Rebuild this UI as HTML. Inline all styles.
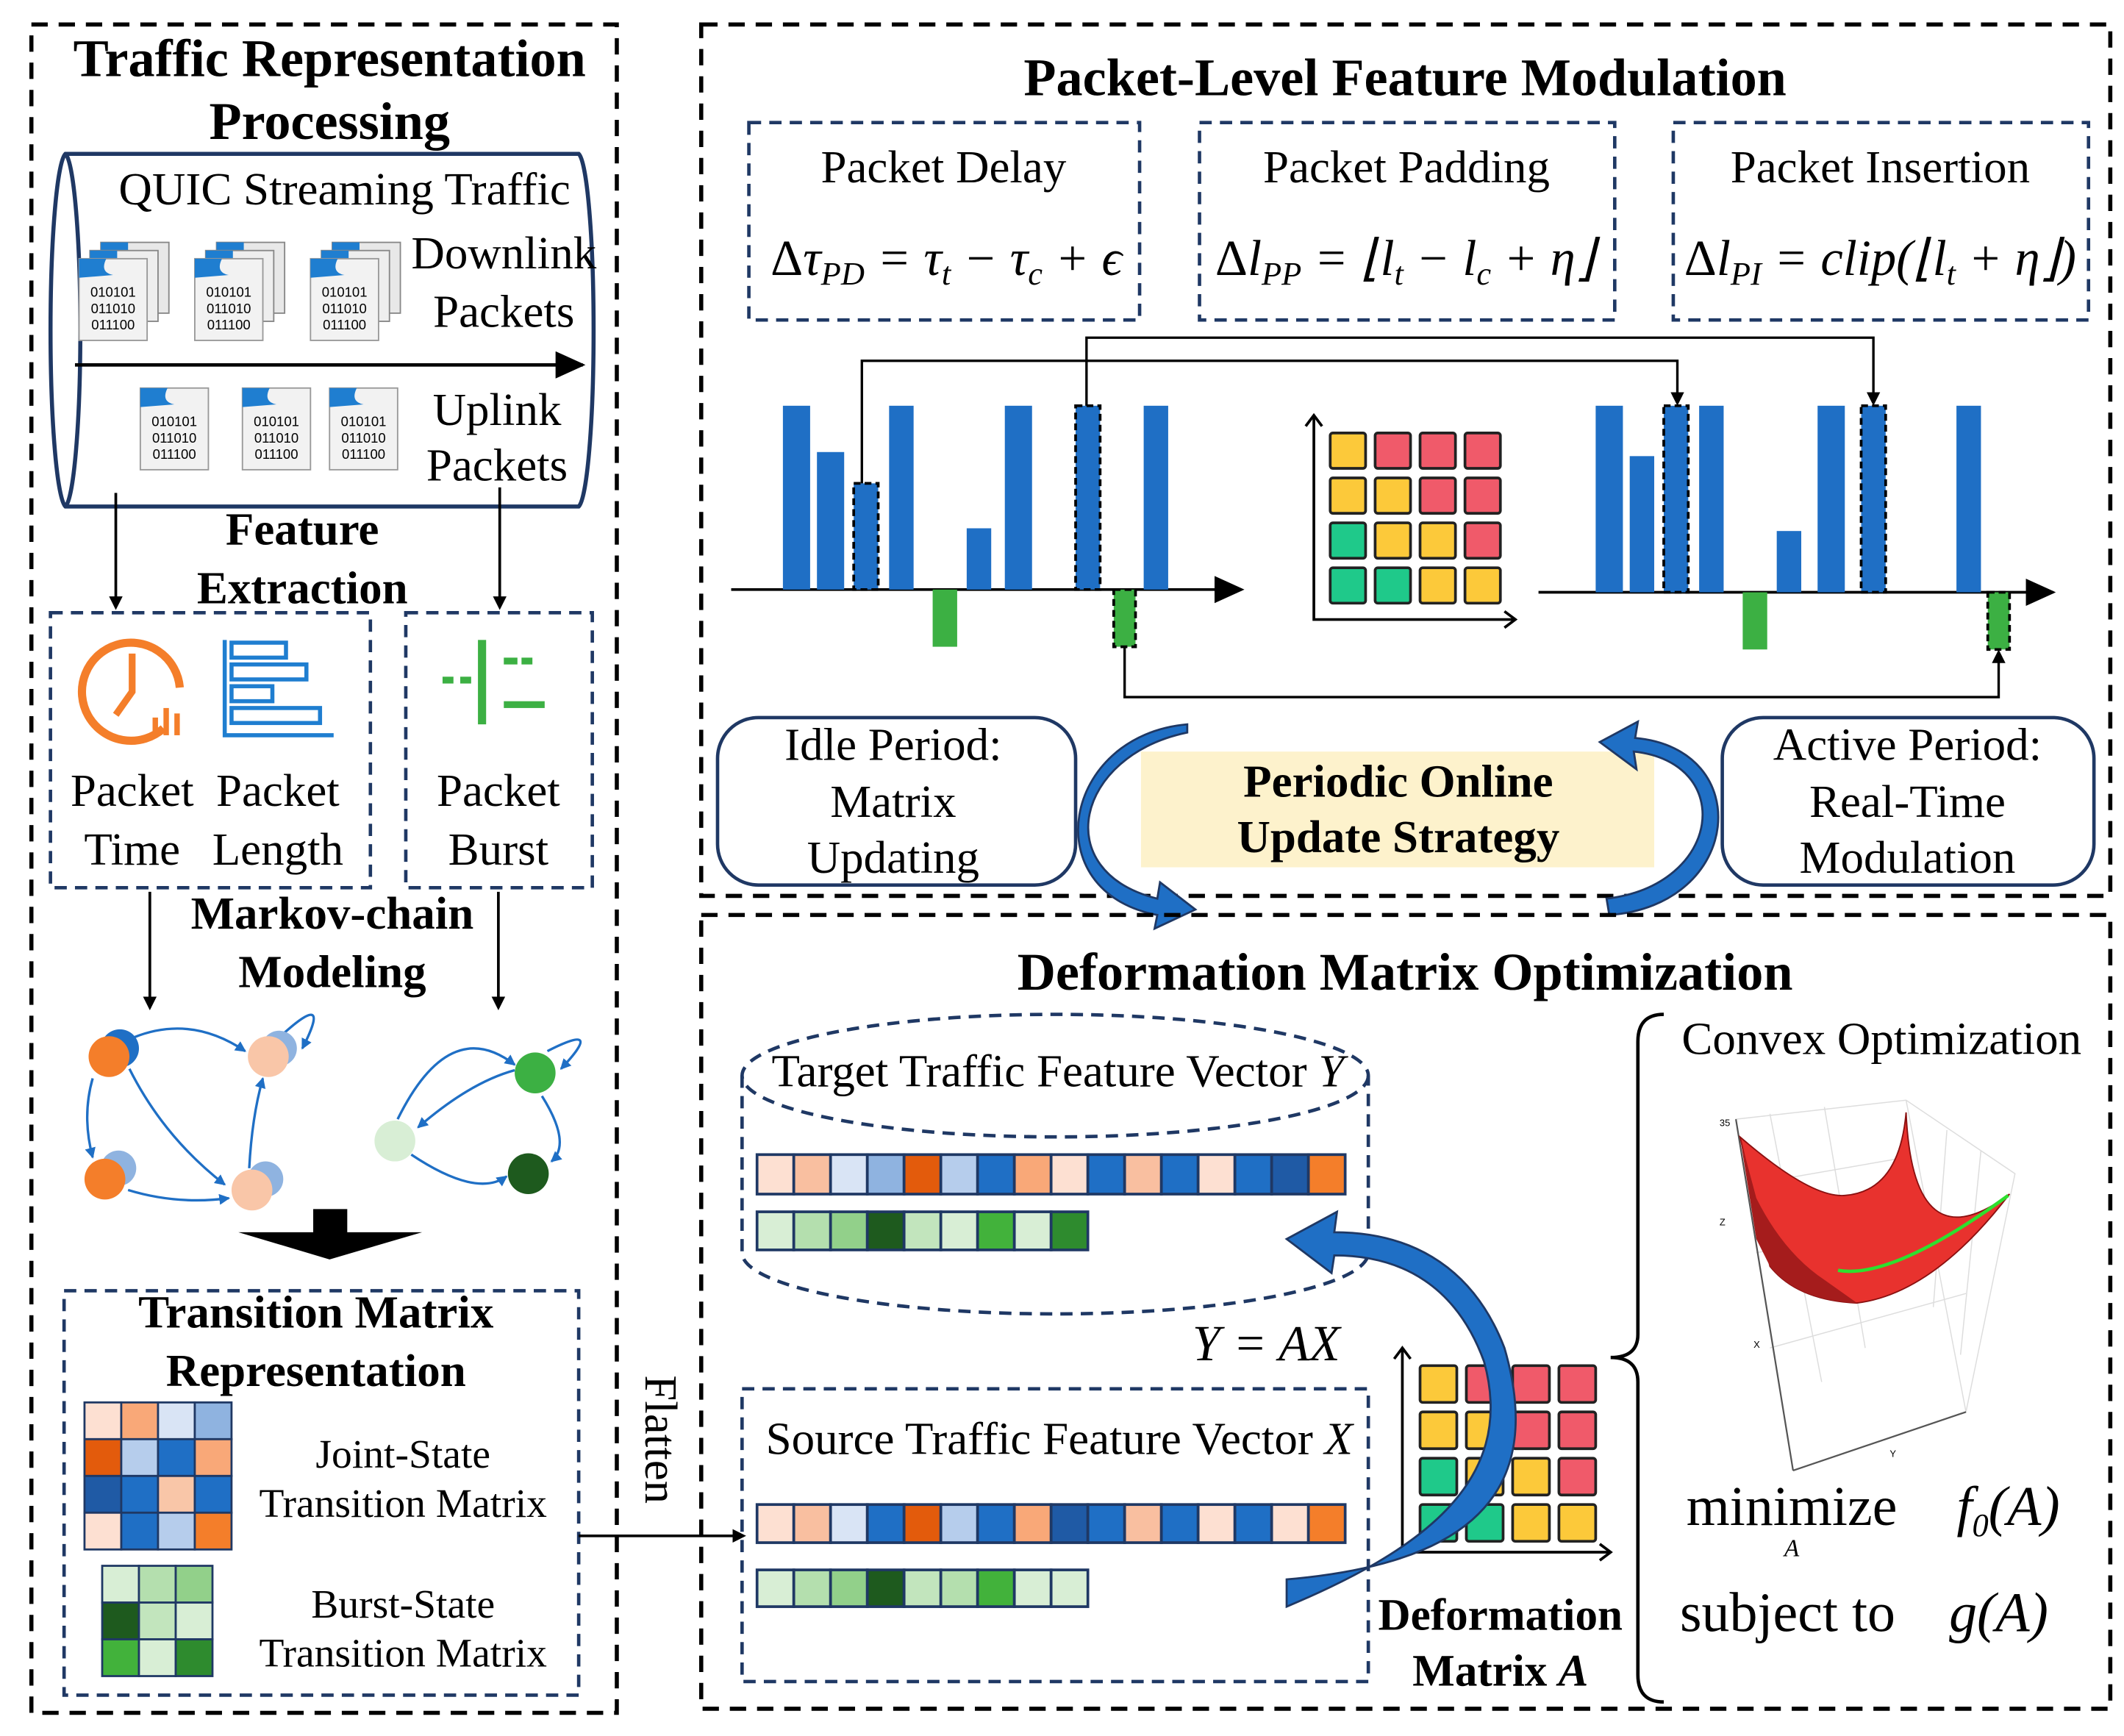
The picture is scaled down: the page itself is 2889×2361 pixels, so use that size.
<!DOCTYPE html>
<html><head><meta charset="utf-8"><style>
html,body{margin:0;padding:0;background:#fff}
svg{display:block}
text{font-family:"Liberation Serif",serif;fill:#000}
.b{font-weight:bold}
.t{font-size:34px}
.h{font-size:34px;font-weight:bold}
.H{font-size:39px;font-weight:bold}
.f{font-size:37px;font-style:italic}
.m{font-size:30px}
</style></head><body>
<svg width="2889" height="2361" viewBox="0 0 1560 1275" xmlns="http://www.w3.org/2000/svg">
<defs>
<marker id="ah" markerWidth="10" markerHeight="10" refX="8" refY="5" orient="auto" markerUnits="userSpaceOnUse"><path d="M0,0 L10,5 L0,10z" fill="#000"/></marker>
<marker id="ahs" markerWidth="8" markerHeight="8" refX="7" refY="4" orient="auto" markerUnits="userSpaceOnUse"><path d="M0,0 L8,4 L0,8z" fill="#1f6fc5"/></marker>
<marker id="ahb" markerWidth="22" markerHeight="20" refX="20" refY="10" orient="auto" markerUnits="userSpaceOnUse"><path d="M0,0 L22,10 L0,20z" fill="#000"/></marker>
<g id="file"><rect x="0" y="0" width="50" height="60" fill="#f2f2f2" stroke="#999" stroke-width="1"/><path d="M0,0 h20 q-5,10 5,12 L0,14z" fill="#1f7ed0"/><text x="25" y="28" font-size="10" text-anchor="middle" style="font-family:'Liberation Sans',sans-serif">010101</text><text x="25" y="40" font-size="10" text-anchor="middle" style="font-family:'Liberation Sans',sans-serif">011010</text><text x="25" y="52" font-size="10" text-anchor="middle" style="font-family:'Liberation Sans',sans-serif">011100</text></g>
<g id="stack"><rect x="16" y="-12" width="50" height="52" fill="#e8e8e8" stroke="#888"/><path d="M16,-12 h20 v10 h-20z" fill="#1f7ed0"/><rect x="8" y="-6" width="50" height="52" fill="#eee" stroke="#888"/><path d="M8,-6 h20 v10 h-20z" fill="#1f7ed0"/><use href="#file"/></g>
</defs>

<rect x="23" y="18" width="430" height="1240" fill="none" stroke="#000" stroke-width="3" stroke-dasharray="12,8"/>
<text x="242" y="56" class="H" text-anchor="middle">Traffic Representation</text>
<text x="242" y="102" class="H" text-anchor="middle">Processing</text>
<path d="M48,113 H425 A12,130 0 0 1 425,372 H48 A12,130 0 0 1 48,113 z" fill="none" stroke="#1f3864" stroke-width="3"/>
<path d="M48,113 A12,130 0 0 1 48,372" fill="none" stroke="#1f3864" stroke-width="3"/>
<text x="253" y="150" class="t" text-anchor="middle">QUIC Streaming Traffic</text>
<text x="370" y="197" class="t" text-anchor="middle">Downlink</text>
<text x="370" y="240" class="t" text-anchor="middle">Packets</text>
<text x="365" y="312" class="t" text-anchor="middle">Uplink</text>
<text x="365" y="353" class="t" text-anchor="middle">Packets</text>
<line x1="55" y1="268" x2="428" y2="268" stroke="#000" stroke-width="2.5" marker-end="url(#ahb)"/>
<use href="#stack" x="58" y="190"/><use href="#stack" x="143" y="190"/><use href="#stack" x="228" y="190"/>
<use href="#file" x="103" y="285"/><use href="#file" x="178" y="285"/><use href="#file" x="242" y="285"/>
<text x="222" y="400" class="h" text-anchor="middle">Feature</text>
<text x="222" y="443" class="h" text-anchor="middle">Extraction</text>
<line x1="85" y1="362" x2="85" y2="446" stroke="#000" stroke-width="2" marker-end="url(#ah)"/>
<line x1="367" y1="358" x2="367" y2="446" stroke="#000" stroke-width="2" marker-end="url(#ah)"/>
<rect x="37" y="450" width="235" height="202" fill="none" stroke="#1f3864" stroke-width="2.5" stroke-dasharray="9,6"/>
<rect x="298" y="450" width="137" height="202" fill="none" stroke="#1f3864" stroke-width="2.5" stroke-dasharray="9,6"/>
<path d="M120,535 A36,36 0 1 1 132,505" fill="none" stroke="#f47e2a" stroke-width="6"/>
<path d="M97,480 V508 L85,525" fill="none" stroke="#f47e2a" stroke-width="5"/>
<rect x="112" y="527" width="4" height="13" fill="#f47e2a"/><rect x="120" y="520" width="4" height="20" fill="#f47e2a"/><rect x="128" y="524" width="4" height="16" fill="#f47e2a"/>
<g fill="none" stroke="#1f7ed0" stroke-width="3"><path d="M165,470 V540 H245"/><rect x="170" y="472" width="40" height="11"/><rect x="170" y="488" width="55" height="11"/><rect x="170" y="504" width="30" height="11"/><rect x="170" y="520" width="65" height="11"/></g>
<g fill="#3cb043"><rect x="351" y="470" width="6" height="62"/><rect x="325" y="497" width="8" height="5"/><rect x="338" y="497" width="8" height="5"/><rect x="370" y="483" width="10" height="5"/><rect x="383" y="483" width="8" height="5"/><rect x="370" y="515" width="30" height="5"/></g>
<text x="97" y="592" class="t" text-anchor="middle">Packet</text><text x="97" y="635" class="t" text-anchor="middle">Time</text>
<text x="204" y="592" class="t" text-anchor="middle">Packet</text><text x="204" y="635" class="t" text-anchor="middle">Length</text>
<text x="366" y="592" class="t" text-anchor="middle">Packet</text><text x="366" y="635" class="t" text-anchor="middle">Burst</text>
<text x="244" y="682" class="h" text-anchor="middle">Markov-chain</text>
<text x="244" y="725" class="h" text-anchor="middle">Modeling</text>
<line x1="110" y1="655" x2="110" y2="740" stroke="#000" stroke-width="2" marker-end="url(#ah)"/>
<line x1="366" y1="655" x2="366" y2="740" stroke="#000" stroke-width="2" marker-end="url(#ah)"/>
<g fill="none" stroke="#1f6fc5" stroke-width="1.8">
<path d="M98,762 Q140,745 180,772" marker-end="url(#ahs)"/><path d="M95,785 Q120,835 165,870" marker-end="url(#ahs)"/><path d="M68,792 Q60,820 68,850" marker-end="url(#ahs)"/><path d="M94,874 Q130,885 168,880" marker-end="url(#ahs)"/><path d="M183,858 Q185,820 193,792" marker-end="url(#ahs)"/><path d="M205,762 Q245,725 222,770" marker-end="url(#ahs)"/>
<path d="M378,786 Q345,795 307,828" marker-end="url(#ahs)"/><path d="M302,848 Q350,880 372,864" marker-end="url(#ahs)"/><path d="M398,805 Q420,840 405,853" marker-end="url(#ahs)"/><path d="M292,822 Q330,745 378,782" marker-end="url(#ahs)"/><path d="M402,772 Q445,750 412,785" marker-end="url(#ahs)"/>
</g>
<circle cx="88" cy="770" r="14" fill="#1f6fc5"/><circle cx="80" cy="776" r="15" fill="#f47e2a"/>
<circle cx="87" cy="858" r="13" fill="#8fb3e0"/><circle cx="77" cy="866" r="15" fill="#f47e2a"/>
<circle cx="195" cy="866" r="13" fill="#8fb3e0"/><circle cx="185" cy="874" r="15" fill="#f9c6a8"/>
<circle cx="205" cy="770" r="13" fill="#8fb3e0"/><circle cx="197" cy="776" r="15" fill="#f9c6a8"/>
<circle cx="393" cy="788" r="15" fill="#3cb043"/><circle cx="290" cy="838" r="15" fill="#d8eed5"/><circle cx="388" cy="862" r="15" fill="#1e5a1e"/>
<rect x="230" y="888" width="25" height="18" fill="#000"/><path d="M175,905 H310 L242,925z" fill="#000"/>
<rect x="47" y="948" width="378" height="297" fill="none" stroke="#1f3864" stroke-width="2.5" stroke-dasharray="9,6"/>
<text x="232" y="975" class="h" text-anchor="middle">Transition Matrix</text>
<text x="232" y="1018" class="h" text-anchor="middle">Representation</text>
<g stroke="#1f3864" stroke-width="1.5">
<rect x="62" y="1030" width="27" height="27" fill="#fde0d2"/><rect x="89" y="1030" width="27" height="27" fill="#f9a878"/><rect x="116" y="1030" width="27" height="27" fill="#d9e4f5"/><rect x="143" y="1030" width="27" height="27" fill="#8fb3e0"/>
<rect x="62" y="1057" width="27" height="27" fill="#e35b0c"/><rect x="89" y="1057" width="27" height="27" fill="#b6cdec"/><rect x="116" y="1057" width="27" height="27" fill="#1f6fc5"/><rect x="143" y="1057" width="27" height="27" fill="#f9a878"/>
<rect x="62" y="1084" width="27" height="27" fill="#1f5aa5"/><rect x="89" y="1084" width="27" height="27" fill="#1f6fc5"/><rect x="116" y="1084" width="27" height="27" fill="#f9c6a8"/><rect x="143" y="1084" width="27" height="27" fill="#1f6fc5"/>
<rect x="62" y="1111" width="27" height="27" fill="#fde0d2"/><rect x="89" y="1111" width="27" height="27" fill="#1f6fc5"/><rect x="116" y="1111" width="27" height="27" fill="#b6cdec"/><rect x="143" y="1111" width="27" height="27" fill="#f47e2a"/>
<rect x="75" y="1150" width="27" height="27" fill="#d8eed5"/><rect x="102" y="1150" width="27" height="27" fill="#b4dfae"/><rect x="129" y="1150" width="27" height="27" fill="#92d08a"/>
<rect x="75" y="1177" width="27" height="27" fill="#1e5a1e"/><rect x="102" y="1177" width="27" height="27" fill="#c2e5bd"/><rect x="129" y="1177" width="27" height="27" fill="#d8eed5"/>
<rect x="75" y="1204" width="27" height="27" fill="#42b23b"/><rect x="102" y="1204" width="27" height="27" fill="#d8eed5"/><rect x="129" y="1204" width="27" height="27" fill="#2e8b2e"/>
</g>
<text x="296" y="1078" class="m" text-anchor="middle">Joint-State</text>
<text x="296" y="1114" class="m" text-anchor="middle">Transition Matrix</text>
<text x="296" y="1188" class="m" text-anchor="middle">Burst-State</text>
<text x="296" y="1224" class="m" text-anchor="middle">Transition Matrix</text>
<line x1="425" y1="1128" x2="546" y2="1128" stroke="#000" stroke-width="2" marker-end="url(#ah)"/>
<text x="474" y="1010" class="t" transform="rotate(90 474 1010)">Flatten</text>

<rect x="515" y="18" width="1035" height="640" fill="none" stroke="#000" stroke-width="3" stroke-dasharray="12,8"/>
<text x="1032" y="70" class="H" text-anchor="middle">Packet-Level Feature Modulation</text>
<g fill="none" stroke="#1f3864" stroke-width="2.5" stroke-dasharray="9,6">
<rect x="550" y="90" width="287" height="145"/><rect x="881" y="90" width="305" height="145"/><rect x="1229" y="90" width="305" height="145"/></g>
<text x="693" y="134" class="t" text-anchor="middle">Packet Delay</text>
<text x="1033" y="134" class="t" text-anchor="middle">Packet Padding</text>
<text x="1381" y="134" class="t" text-anchor="middle">Packet Insertion</text>
<text x="695" y="202" class="f" text-anchor="middle"><tspan font-style="normal">Δ</tspan>τ<tspan font-size="24" dy="7">PD</tspan><tspan dy="-7"> = τ</tspan><tspan font-size="24" dy="7">t</tspan><tspan dy="-7"> − τ</tspan><tspan font-size="24" dy="7">c</tspan><tspan dy="-7"> + ϵ</tspan></text>
<text x="1032" y="202" class="f" text-anchor="middle"><tspan font-style="normal">Δ</tspan>l<tspan font-size="24" dy="7">PP</tspan><tspan dy="-7"> = ⌊l</tspan><tspan font-size="24" dy="7">t</tspan><tspan dy="-7"> − l</tspan><tspan font-size="24" dy="7">c</tspan><tspan dy="-7"> + η⌋</tspan></text>
<text x="1381" y="202" class="f" text-anchor="middle"><tspan font-style="normal">Δ</tspan>l<tspan font-size="24" dy="7">PI</tspan><tspan dy="-7"> = clip(⌊l</tspan><tspan font-size="24" dy="7">t</tspan><tspan dy="-7"> + η⌋)</tspan></text>
<line x1="537" y1="433" x2="912" y2="433" stroke="#000" stroke-width="2" marker-end="url(#ahb)"/>
<g fill="#1f6fc5"><rect x="575" y="298" width="20" height="135"/><rect x="600" y="332" width="20" height="101"/><rect x="627" y="355" width="18" height="78"/><rect x="653" y="298" width="18" height="135"/><rect x="710" y="388" width="18" height="45"/><rect x="738" y="298" width="20" height="135"/><rect x="790" y="298" width="18" height="135"/><rect x="840" y="298" width="18" height="135"/></g>
<g fill="#3cb043"><rect x="685" y="433" width="18" height="42"/><rect x="818" y="433" width="16" height="42"/></g>
<g fill="none" stroke="#000" stroke-width="2" stroke-dasharray="5,3"><rect x="627" y="355" width="18" height="78"/><rect x="790" y="298" width="18" height="135"/><rect x="818" y="433" width="16" height="42"/></g>
<line x1="1130" y1="435" x2="1508" y2="435" stroke="#000" stroke-width="2" marker-end="url(#ahb)"/>
<g fill="#1f6fc5"><rect x="1172" y="298" width="20" height="137"/><rect x="1197" y="335" width="18" height="100"/><rect x="1222" y="298" width="18" height="137"/><rect x="1248" y="298" width="18" height="137"/><rect x="1305" y="390" width="18" height="45"/><rect x="1335" y="298" width="20" height="137"/><rect x="1367" y="298" width="18" height="137"/><rect x="1437" y="298" width="18" height="137"/></g>
<g fill="#3cb043"><rect x="1280" y="435" width="18" height="42"/><rect x="1460" y="435" width="16" height="42"/></g>
<g fill="none" stroke="#000" stroke-width="2" stroke-dasharray="5,3"><rect x="1222" y="298" width="18" height="137"/><rect x="1367" y="298" width="18" height="137"/><rect x="1460" y="435" width="16" height="42"/></g>
<g fill="none" stroke="#000" stroke-width="1.8">
<path d="M633,355 V265 H1232 V296" marker-end="url(#ah)"/>
<path d="M798,298 V248 H1376 V296" marker-end="url(#ah)"/>
<path d="M826,475 V512 H1468 V479" marker-end="url(#ah)"/>
</g>
<g stroke="#000" stroke-width="2" fill="none"><path d="M965,305 V455 H1113"/><path d="M959,313 L965,305 L971,313"/><path d="M1105,449 L1113,455 L1105,461"/></g>
<g stroke="#222" stroke-width="2">
<rect x="977" y="318" width="26" height="26" rx="2" fill="#fcc93a"/><rect x="1010" y="318" width="26" height="26" rx="2" fill="#f05a6a"/><rect x="1043" y="318" width="26" height="26" rx="2" fill="#f05a6a"/><rect x="1076" y="318" width="26" height="26" rx="2" fill="#f05a6a"/>
<rect x="977" y="351" width="26" height="26" rx="2" fill="#fcc93a"/><rect x="1010" y="351" width="26" height="26" rx="2" fill="#fcc93a"/><rect x="1043" y="351" width="26" height="26" rx="2" fill="#f05a6a"/><rect x="1076" y="351" width="26" height="26" rx="2" fill="#f05a6a"/>
<rect x="977" y="384" width="26" height="26" rx="2" fill="#1fc98a"/><rect x="1010" y="384" width="26" height="26" rx="2" fill="#fcc93a"/><rect x="1043" y="384" width="26" height="26" rx="2" fill="#fcc93a"/><rect x="1076" y="384" width="26" height="26" rx="2" fill="#f05a6a"/>
<rect x="977" y="417" width="26" height="26" rx="2" fill="#1fc98a"/><rect x="1010" y="417" width="26" height="26" rx="2" fill="#1fc98a"/><rect x="1043" y="417" width="26" height="26" rx="2" fill="#fcc93a"/><rect x="1076" y="417" width="26" height="26" rx="2" fill="#fcc93a"/>
</g>
<rect x="527" y="527" width="263" height="123" rx="30" fill="none" stroke="#1f3864" stroke-width="2.5"/>
<rect x="1265" y="527" width="273" height="123" rx="30" fill="none" stroke="#1f3864" stroke-width="2.5"/>
<text x="656" y="558" class="t" text-anchor="middle">Idle Period:</text><text x="656" y="600" class="t" text-anchor="middle">Matrix</text><text x="656" y="641" class="t" text-anchor="middle">Updating</text>
<text x="1401" y="558" class="t" text-anchor="middle">Active Period:</text><text x="1401" y="600" class="t" text-anchor="middle">Real-Time</text><text x="1401" y="641" class="t" text-anchor="middle">Modulation</text>
<rect x="838" y="552" width="377" height="85" fill="#fdf2cc"/>
<text x="1027" y="585" class="h" text-anchor="middle">Periodic Online</text>
<text x="1027" y="626" class="h" text-anchor="middle">Update Strategy</text>
<path d="M872,538 C790,555 770,640 850,660 L852,648 L878,668 L848,682 L850,672 C760,655 780,540 872,532 Z" fill="#1f6fc5" stroke="#1f3864" stroke-width="1.5"/>
<path d="M1180,660 C1265,650 1275,560 1200,552 L1202,565 L1175,545 L1203,530 L1201,542 C1290,550 1280,665 1182,672 Z" fill="#1f6fc5" stroke="#1f3864" stroke-width="1.5"/>

<rect x="515" y="672" width="1035" height="583" fill="none" stroke="#000" stroke-width="3" stroke-dasharray="12,8"/>
<text x="1032" y="727" class="H" text-anchor="middle">Deformation Matrix Optimization</text>
<g fill="none" stroke="#1f3864" stroke-width="2.5" stroke-dasharray="9,6">
<ellipse cx="775" cy="790" rx="230" ry="45"/>
<path d="M545,790 V920 A230,45 0 0 0 1005,920 V790"/>
<rect x="545" y="1020" width="460" height="215"/>
</g>
<text x="777" y="798" class="t" text-anchor="middle">Target Traffic Feature Vector <tspan font-style="italic">Y</tspan></text>
<text x="778" y="1068" class="t" text-anchor="middle">Source Traffic Feature Vector <tspan font-style="italic">X</tspan></text>
<g stroke="#1f3864" stroke-width="2">
<rect x="556" y="848" width="27" height="29" fill="#fde0d2"/><rect x="583" y="848" width="27" height="29" fill="#f9bfa0"/><rect x="610" y="848" width="27" height="29" fill="#d9e4f5"/><rect x="637" y="848" width="27" height="29" fill="#8fb3e0"/><rect x="664" y="848" width="27" height="29" fill="#e35b0c"/><rect x="691" y="848" width="27" height="29" fill="#b6cdec"/><rect x="718" y="848" width="27" height="29" fill="#1f6fc5"/><rect x="745" y="848" width="27" height="29" fill="#f9a878"/><rect x="772" y="848" width="27" height="29" fill="#fde0d2"/><rect x="799" y="848" width="27" height="29" fill="#1f6fc5"/><rect x="826" y="848" width="27" height="29" fill="#f9bfa0"/><rect x="853" y="848" width="27" height="29" fill="#1f6fc5"/><rect x="880" y="848" width="27" height="29" fill="#fde0d2"/><rect x="907" y="848" width="27" height="29" fill="#1f6fc5"/><rect x="934" y="848" width="27" height="29" fill="#1f5aa5"/><rect x="961" y="848" width="27" height="29" fill="#f47e2a"/>
<rect x="556" y="890" width="27" height="28" fill="#d8eed5"/><rect x="583" y="890" width="27" height="28" fill="#b4dfae"/><rect x="610" y="890" width="27" height="28" fill="#92d08a"/><rect x="637" y="890" width="27" height="28" fill="#1e5a1e"/><rect x="664" y="890" width="27" height="28" fill="#c2e5bd"/><rect x="691" y="890" width="27" height="28" fill="#d8eed5"/><rect x="718" y="890" width="27" height="28" fill="#42b23b"/><rect x="745" y="890" width="27" height="28" fill="#d8eed5"/><rect x="772" y="890" width="27" height="28" fill="#2e8b2e"/>
<rect x="556" y="1105" width="27" height="28" fill="#fde0d2"/><rect x="583" y="1105" width="27" height="28" fill="#f9bfa0"/><rect x="610" y="1105" width="27" height="28" fill="#d9e4f5"/><rect x="637" y="1105" width="27" height="28" fill="#1f6fc5"/><rect x="664" y="1105" width="27" height="28" fill="#e35b0c"/><rect x="691" y="1105" width="27" height="28" fill="#b6cdec"/><rect x="718" y="1105" width="27" height="28" fill="#1f6fc5"/><rect x="745" y="1105" width="27" height="28" fill="#f9a878"/><rect x="772" y="1105" width="27" height="28" fill="#1f5aa5"/><rect x="799" y="1105" width="27" height="28" fill="#1f6fc5"/><rect x="826" y="1105" width="27" height="28" fill="#f9bfa0"/><rect x="853" y="1105" width="27" height="28" fill="#1f6fc5"/><rect x="880" y="1105" width="27" height="28" fill="#fde0d2"/><rect x="907" y="1105" width="27" height="28" fill="#1f6fc5"/><rect x="934" y="1105" width="27" height="28" fill="#fde0d2"/><rect x="961" y="1105" width="27" height="28" fill="#f47e2a"/>
<rect x="556" y="1153" width="27" height="27" fill="#d8eed5"/><rect x="583" y="1153" width="27" height="27" fill="#b4dfae"/><rect x="610" y="1153" width="27" height="27" fill="#92d08a"/><rect x="637" y="1153" width="27" height="27" fill="#1e5a1e"/><rect x="664" y="1153" width="27" height="27" fill="#c2e5bd"/><rect x="691" y="1153" width="27" height="27" fill="#b4dfae"/><rect x="718" y="1153" width="27" height="27" fill="#42b23b"/><rect x="745" y="1153" width="27" height="27" fill="#d8eed5"/><rect x="772" y="1153" width="27" height="27" fill="#d8eed5"/>
</g>
<text x="930" y="999" class="f" text-anchor="middle">Y = AX</text>
<g stroke="#000" stroke-width="2" fill="none"><path d="M1030,990 V1140 H1183"/><path d="M1024,998 L1030,990 L1036,998"/><path d="M1175,1134 L1183,1140 L1175,1146"/></g>
<g stroke="#222" stroke-width="2">
<rect x="1043" y="1003" width="27" height="27" rx="2" fill="#fcc93a"/><rect x="1077" y="1003" width="27" height="27" rx="2" fill="#f05a6a"/><rect x="1111" y="1003" width="27" height="27" rx="2" fill="#f05a6a"/><rect x="1145" y="1003" width="27" height="27" rx="2" fill="#f05a6a"/>
<rect x="1043" y="1037" width="27" height="27" rx="2" fill="#fcc93a"/><rect x="1077" y="1037" width="27" height="27" rx="2" fill="#fcc93a"/><rect x="1111" y="1037" width="27" height="27" rx="2" fill="#f05a6a"/><rect x="1145" y="1037" width="27" height="27" rx="2" fill="#f05a6a"/>
<rect x="1043" y="1071" width="27" height="27" rx="2" fill="#1fc98a"/><rect x="1077" y="1071" width="27" height="27" rx="2" fill="#fcc93a"/><rect x="1111" y="1071" width="27" height="27" rx="2" fill="#fcc93a"/><rect x="1145" y="1071" width="27" height="27" rx="2" fill="#f05a6a"/>
<rect x="1043" y="1105" width="27" height="27" rx="2" fill="#1fc98a"/><rect x="1077" y="1105" width="27" height="27" rx="2" fill="#1fc98a"/><rect x="1111" y="1105" width="27" height="27" rx="2" fill="#fcc93a"/><rect x="1145" y="1105" width="27" height="27" rx="2" fill="#fcc93a"/>
</g>
<text x="1102" y="1197" class="h" text-anchor="middle" font-size="33" style="font-size:33px">Deformation</text>
<text x="1102" y="1238" class="h" text-anchor="middle" style="font-size:33px">Matrix <tspan font-style="italic">A</tspan></text>
<path d="M945,1160 C1060,1150 1140,1110 1105,990 C1080,925 1030,905 980,905 L982,890 L945,910 L978,935 L980,922 C1030,922 1070,945 1090,1000 C1115,1090 1040,1140 945,1180 Z" fill="#1f6fc5" stroke="#1f3864" stroke-width="1.5"/>
<path d="M1222,745 Q1203,745 1203,765 V980 Q1203,997 1183,997 Q1203,997 1203,1015 V1230 Q1203,1250 1222,1250" fill="none" stroke="#000" stroke-width="2.5"/>
<text x="1382" y="774" class="t" text-anchor="middle">Convex Optimization</text>
<g stroke="#ddd" stroke-width="0.8" fill="none">
<path d="M1275,822 L1400,808 L1480,862 L1444,1037 L1317,1080 Z"/><path d="M1300,818 L1338,1015 M1340,813 L1370,990 M1400,808 L1444,1037 M1430,830 L1420,960 M1455,845 L1440,995"/>
<path d="M1285,870 L1400,850 M1290,920 L1410,900 M1300,990 L1444,950"/>
</g>
<path d="M1317,1080 L1444,1037" stroke="#555" stroke-width="1.2"/><path d="M1275,822 L1317,1080" stroke="#555" stroke-width="1.2"/>
<path d="M1278,835 Q1330,880 1355,878 Q1395,875 1400,817 Q1405,930 1476,877 Q1420,950 1364,957 Q1320,955 1300,930 Z" fill="#e8322e" stroke="#8a1010" stroke-width="1"/>
<path d="M1278,835 L1290,910 L1300,930 Q1320,955 1364,957 L1340,940 Q1310,920 1290,880 Z" fill="#a51c1c"/>
<path d="M1350,933 Q1390,940 1475,878" fill="none" stroke="#2ee02e" stroke-width="2.5"/>
<g font-size="7" fill="#666"><text x="1263" y="827" style="font-family:'Liberation Sans',sans-serif">35</text><text x="1263" y="900" style="font-family:'Liberation Sans',sans-serif">Z</text><text x="1288" y="990" style="font-family:'Liberation Sans',sans-serif">X</text><text x="1388" y="1070" style="font-family:'Liberation Sans',sans-serif">Y</text></g>
<text x="1316" y="1120" font-size="41" text-anchor="middle">minimize</text>
<text x="1316" y="1143" font-size="18" font-style="italic" text-anchor="middle">A</text>
<text x="1475" y="1120" font-size="41" font-style="italic" text-anchor="middle">f<tspan font-size="24" dy="8">0</tspan><tspan dy="-8">(A)</tspan></text>
<text x="1313" y="1198" font-size="41" text-anchor="middle">subject to</text>
<text x="1468" y="1198" font-size="41" font-style="italic" text-anchor="middle">g(A)</text>
</svg>
</body></html>
